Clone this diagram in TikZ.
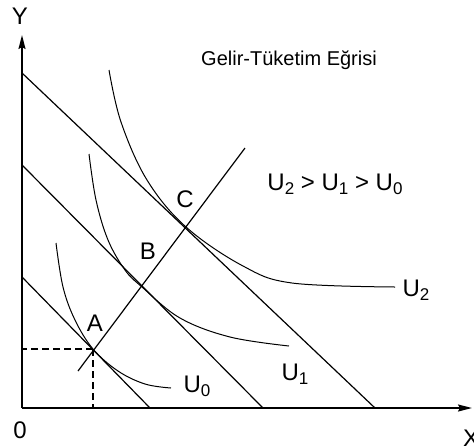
\documentclass[tikz,border=0pt]{standalone}
\usepackage{fontspec}
\setmainfont{Liberation Sans}
\usetikzlibrary{arrows.meta}
\newcommand{\usub}[1]{\raisebox{-4pt}{\fontsize{17}{17}\selectfont #1}}
\begin{document}
\begin{tikzpicture}[x=1pt,y=-1pt,
  axisline/.style={line width=1.8pt,-{Stealth[length=14pt,width=7pt,inset=2pt]}},
  budget/.style={line width=1.2pt},
  indiff/.style={line width=1pt},
  iccline/.style={line width=1.2pt},
  guide/.style={line width=1.3pt,dash pattern=on 7pt off 4pt},
  lbl/.style={font=\fontsize{24}{28}\selectfont,inner sep=0pt},
  title/.style={font=\fontsize{20}{24}\selectfont,inner sep=0pt}]
\useasboundingbox (0,0) rectangle (474,445);
% key points
\coordinate (O) at (22,408);
\coordinate (Ytip) at (22,35);
\coordinate (Xtip) at (472,408);
\coordinate (A) at (93,349);
\coordinate (B) at (142,286);
\coordinate (C) at (186,227);
\coordinate (b1s) at (22,277);
\coordinate (b1e) at (150,408);
\coordinate (b2s) at (22,165);
\coordinate (b2e) at (263,408);
\coordinate (b3s) at (22,73);
\coordinate (b3e) at (375,408);
\coordinate (iccs) at (78,371);
\coordinate (icce) at (245,148);
% dashed guides
\draw[guide] (A) -- (A -| O);
\draw[guide] (A) -- (A |- O);
% budget lines
\draw[budget] (b1s) -- (b1e);
\draw[budget] (b2s) -- (b2e);
\draw[budget] (b3s) -- (b3e);
% income-consumption curve
\draw[iccline] (iccs) -- (icce);
% indifference curves
\draw[indiff] plot[smooth,tension=0.6] coordinates {(56,243) (63,287) (75,320) (93,349) (118,371) (145,384) (171,388)};
\draw[indiff] plot[smooth,tension=0.6] coordinates {(89,154) (96,200) (108,240) (125,270) (142,287) (180,318) (230,337) (289,346)};
\draw[indiff] plot[smooth,tension=0.6] coordinates {(109,70) (121,122) (147,180) (186,227) (243,266) (292,283) (395,287)};
% axes
\draw[axisline] (O) -- (Ytip);
\draw[axisline] (O) -- (Xtip);
% labels
\node[lbl] (ylab) at (20,16) {Y};
\node[lbl] (olab) at (20,430) {0};
\node[lbl] (xlab) at (471,438) {X};
\node[lbl] (alab) at (95,323) {A};
\node[lbl] (blab) at (148,251) {B};
\node[lbl] (clab) at (185,199) {C};
\node[lbl] (u0) at (197,386) {U\usub{0}};
\node[lbl] (u1) at (295,374) {U\usub{1}};
\node[lbl] (u2) at (416,290) {U\usub{2}};
\node[lbl] (order) at (335,184) {U\usub{2} > U\usub{1} > U\usub{0}};
\node[title] (ttl) at (289,60) {Gelir-Tüketim Eğrisi};
\end{tikzpicture}
\end{document}
